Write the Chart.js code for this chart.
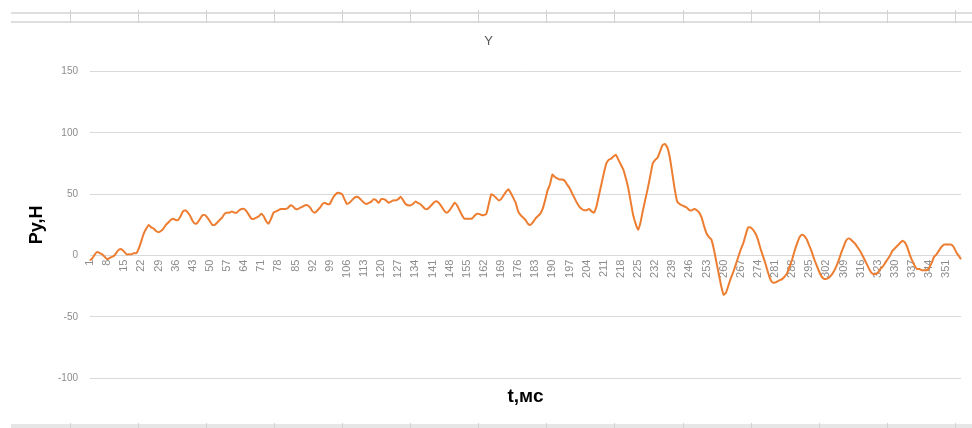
<!DOCTYPE html>
<html><head><meta charset="utf-8">
<script src="https://cdn.jsdelivr.net/npm/chart.js@4"></script>
<style>
html,body{margin:0;padding:0;background:#fff;}
#wrap{position:relative;width:972px;height:428px;overflow:hidden;background:#fff;}
canvas{position:absolute;left:0;top:0;}
.h{position:absolute;background:#dedede;}
.v{position:absolute;width:1px;background:#d2d2d2;}
</style></head><body>
<div id="wrap">
<div id="deco"></div>
<canvas id="c" width="972" height="428"></canvas>
</div>
<script>
const chartTitle = 'Y';
const xTitle = 't,мс';
const yTitle = 'Py,H';
const labelStep = 7;
const yMin = -100, yMax = 150, yStep = 50;
const categories = [];
for (let i = 1; i <= 357; i++) categories.push(String(i));
const pyValues = [
 -4, -2, 1, 3, 2, 1, -1, -3, -2, -1,
 0, 3, 5, 5, 3, 1, 1, 1, 2, 2,
 6, 12, 18, 22, 25, 23, 22, 20, 19, 20,
 22, 25, 27, 29, 30, 29, 29, 32, 36, 37,
 35, 32, 28, 26, 27, 30, 33, 33, 31, 28,
 25, 25, 27, 29, 31, 34, 35, 35, 36, 35,
 35, 37, 38, 38, 36, 33, 30, 30, 31, 32,
 34, 32, 28, 26, 30, 35, 36, 37, 38, 38,
 38, 39, 41, 40, 38, 38, 39, 40, 41, 41,
 39, 36, 35, 37, 39, 42, 43, 42, 42, 46,
 49, 51, 51, 50, 46, 42, 43, 45, 47, 48,
 47, 45, 43, 42, 43, 44, 46, 45, 43, 46,
 46, 45, 43, 44, 45, 45, 46, 48, 45, 42,
 41, 41, 42, 44, 43, 42, 40, 38, 38, 40,
 42, 44, 44, 42, 39, 36, 35, 37, 40, 43,
 41, 37, 33, 30, 30, 30, 30, 32, 34, 34,
 33, 33, 34, 42, 50, 49, 47, 45, 46, 49,
 52, 54, 51, 47, 43, 36, 33, 31, 29, 26,
 25, 27, 30, 32, 34, 38, 45, 53, 58, 66,
 64, 63, 62, 62, 61, 58, 55, 51, 47, 43,
 40, 38, 37, 37, 38, 36, 35, 40, 49, 58,
 67, 75, 78, 79, 81, 82, 78, 74, 70, 63,
 55, 44, 33, 26, 21, 27, 37, 46, 55, 65,
 75, 78, 80, 85, 90, 91, 88, 80, 67, 54,
 44, 42, 41, 40, 39, 37, 37, 38, 37, 35,
 31, 24, 18, 15, 13, 5, -5, -15, -25, -32,
 -30, -24, -18, -13, -7, -1, 5, 10, 17, 23,
 23, 21, 18, 13, 6, 0, -6, -13, -19, -22,
 -22, -21, -20, -19, -17, -14, -9, -3, 4, 10,
 15, 17, 16, 13, 8, 3, -3, -8, -13, -17,
 -19, -19, -18, -16, -13, -9, -4, 2, 7, 12,
 14, 13, 11, 9, 6, 3, -1, -5, -9, -13,
 -15, -15, -14, -11, -9, -6, -3, 0, 4, 6,
 8, 10, 12, 11, 7, 1, -4, -8, -11, -11,
 -12, -12, -12, -10, -6, -1, 1, 4, 7, 9,
 9, 9, 9, 7, 3, 0, -3
];

// sheet decoration (spreadsheet strip at top and bottom)
(function(){
  const d = document.getElementById('deco');
  const add = (cls, css) => { const e = document.createElement('div'); e.className = cls; e.style.cssText = css; d.appendChild(e); };
  add('h', 'left:11px;top:12px;width:961px;height:2px;');
  add('h', 'left:11px;top:21px;width:961px;height:2px;');
  add('h', 'left:11px;top:424px;width:961px;height:4px;background:#e6e6e6;');
  const xs = [70,138,206,274,342,410,478,546,614,683,751,819,887,955];
  xs.forEach(x => { add('v', 'left:'+x+'px;top:10px;height:13px;'); add('v', 'left:'+x+'px;top:423px;height:5px;'); });
})();

const F = '"Liberation Sans", Arial, sans-serif';
new Chart(document.getElementById('c'), {
  type: 'line',
  data: {
    labels: categories,
    datasets: [{
      data: pyValues,
      borderColor: '#ED7D31',
      borderWidth: 2,
      pointRadius: 0,
      tension: 0.15,
      fill: false
    }]
  },
  options: {
    responsive: false,
    animation: false,
    layout: { padding: { left: 16, right: 11, top: 0, bottom: 0 } },
    plugins: {
      legend: { display: false },
      tooltip: { enabled: false },
      title: {
        display: true, text: chartTitle, color: '#595959',
        font: { size: 13, family: F, weight: 'normal' },
        padding: { top: 34, bottom: 22 }
      },
      subtitle: {
        display: true, position: 'bottom', fullSize: false, text: xTitle, color: '#000',
        font: { size: 19, family: F, weight: 'bold' },
        padding: { top: 7, bottom: 20 }
      }
    },
    scales: {
      x: {
        position: { y: 0 },
        offset: false,
        grid: { display: false, drawTicks: false },
        border: { display: false },
        ticks: {
          autoSkip: false, minRotation: 90, maxRotation: 90, padding: 4,
          color: '#8c8c8c', font: { size: 11, family: F },
          callback: (v, i) => (i % labelStep === 0 ? categories[i] : '')
        },
        afterFit(s) { s.paddingLeft = 0; s.paddingRight = 0; }
      },
      y: {
        min: yMin, max: yMax,
        ticks: { stepSize: yStep, color: '#8c8c8c', font: { size: 10, family: F }, padding: 12 },
        grid: { color: '#d9d9d9', lineWidth: 1, drawTicks: false },
        border: { display: false },
        title: {
          display: true, text: yTitle, color: '#000',
          font: { size: 18, family: F, weight: 'bold' },
          padding: { top: 10, bottom: 0 }
        },
        afterFit(s) { s.width = 74; }
      }
    }
  }
});
</script>
</body></html>
